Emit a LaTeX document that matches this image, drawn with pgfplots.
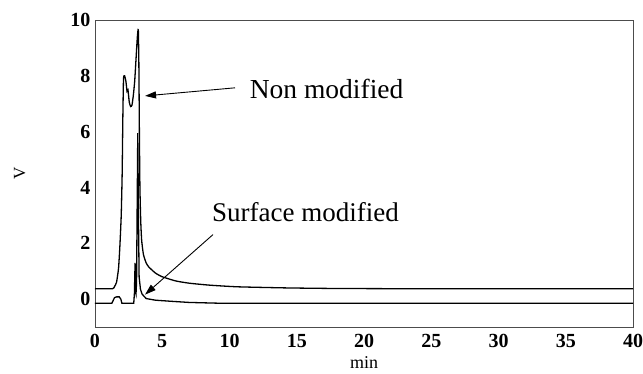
\documentclass[border=0pt]{standalone}
\usepackage{fontspec}
\setmainfont{Liberation Serif}
\usepackage{pgfplots}
\pgfplotsset{compat=1.18}
\usetikzlibrary{arrows.meta}
\begin{document}
\begin{tikzpicture}
\useasboundingbox (-95bp,-47bp) rectangle (548bp,327bp);
\begin{axis}[
  at={(0,0)}, anchor=south west,
  scale only axis, width=538bp, height=307bp,
  xmin=0, xmax=40, ymin=-1, ymax=10,
  xtick={0,5,...,40}, ytick={0,2,...,10},
  major tick length=0pt,
  axis line style={black!70, line width=0.8bp},
  /pgf/number format/assume math mode=true,
  tick label style={font=\fontsize{20bp}{22bp}\selectfont\bfseries},
  xticklabel style={yshift=-4bp},
  yticklabel style={xshift=-1bp},
  xlabel={min}, ylabel={V},
  xlabel style={font=\fontsize{18bp}{20bp}\selectfont, at={(axis description cs:0.5,0)}, anchor=center, yshift=-36bp},
  ylabel style={font=\fontsize{17bp}{19bp}\selectfont, at={(axis description cs:-0.14,0.5)}, anchor=center},
  clip=false,
]
% Non modified
\addplot[black, line width=1.3bp, smooth, tension=0.3] coordinates {
(0,0.37)(1.3,0.37)(1.45,0.45)(1.6,0.6)(1.75,1.1)(1.85,1.9)(1.95,3)(2.02,4.5)(2.07,6.5)(2.12,7.9)(2.2,8.0)(2.3,7.8)(2.38,7.45)(2.45,7.5)(2.55,7.05)(2.65,6.9)(2.75,6.95)(2.85,7.3)(2.95,7.8)(3.05,8.6)(3.15,9.4)(3.22,9.65)(3.26,8.5)(3.3,6)(3.34,4)(3.4,2.8)(3.47,2.1)(3.6,1.6)(3.8,1.3)(4.0,1.15)(4.5,0.93)(5,0.8)(6,0.65)(7,0.57)(8.5,0.5)(10.6,0.44)(14.3,0.4)(18,0.38)(25,0.37)(40,0.37)
};
% Surface modified
\addplot[black, line width=1.3bp] coordinates {
(0,-0.15)(1.25,-0.15)(1.35,-0.05)(1.45,0.05)(1.6,0.08)(1.8,0.08)(1.92,0.0)(2.0,-0.15)(2.88,-0.15)(2.93,0.2)(2.98,1.3)(3.01,0.3)(3.05,0.2)(3.09,0.6)(3.13,3)(3.18,5.95)(3.23,3)(3.28,0.8)(3.38,0.35)(3.5,0.18)(3.8,0.02)(4.5,-0.04)(5.7,-0.08)(7,-0.12)(9.4,-0.15)(40,-0.15)
};
\draw[black, line width=0.9bp, -{Triangle[length=11bp,width=7bp]}] (axis cs:10.41,7.57) -- (axis cs:3.72,7.28);
\draw[black, line width=0.9bp, -{Triangle[length=11bp,width=7bp]}] (axis cs:8.77,2.31) -- (axis cs:3.72,0.16);
\node[anchor=base west, inner sep=0pt, font=\fontsize{27.5bp}{30bp}\selectfont] at (axis cs:11.5,7.17) {Non modified};
\node[anchor=base west, inner sep=0pt, font=\fontsize{27bp}{30bp}\selectfont] at (axis cs:8.7,2.77) {Surface modified};
\end{axis}
\end{tikzpicture}
\end{document}
